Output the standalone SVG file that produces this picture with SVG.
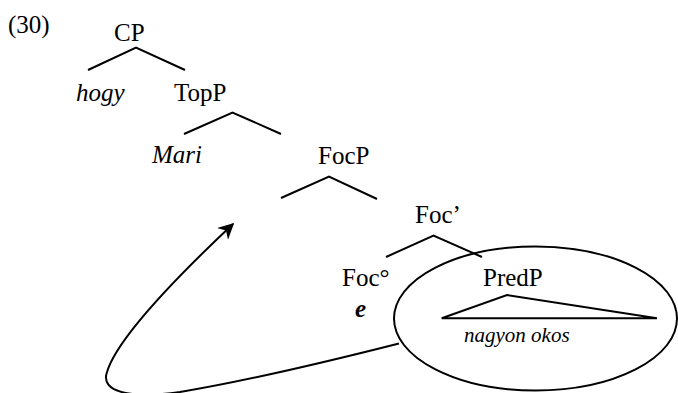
<svg xmlns="http://www.w3.org/2000/svg" width="678" height="393" viewBox="0 0 678 393">
<style>
.t{font-family:'Liberation Serif','Times New Roman',serif;font-size:25px;fill:#000}
.it{font-style:italic}
.sm{font-size:21px}
.b{font-weight:bold}
.ln{fill:none;stroke:#000;stroke-width:2;stroke-linejoin:miter}
</style>
<defs>
<marker id="ah" viewBox="0 0 10 10" refX="9" refY="5" markerWidth="20" markerHeight="16" markerUnits="userSpaceOnUse" orient="auto">
<path d="M0,0 L10,5 L0,10 L3,5 Z" fill="#000"/>
</marker>
</defs>
<rect width="678" height="393" fill="#fff"/>
<text class="t" id="num" x="8" y="33">(30)</text>
<g id="CP"><text class="t" x="114" y="41">CP</text></g>
<g id="hogy"><text class="t it" x="76" y="101">hogy</text></g>
<g id="TopP"><text class="t" x="174" y="101">TopP</text></g>
<g id="Mari"><text class="t it" x="152" y="163">Mari</text></g>
<g id="FocP"><text class="t" x="318" y="164">FocP</text></g>
<g id="FocBar"><text class="t" x="415" y="223">Foc’</text></g>
<g id="Foc0"><text class="t" x="342" y="286">Foc°</text><text class="t it b" x="355" y="317">e</text></g>
<g id="PredP"><text class="t" x="483" y="286">PredP</text>
<path class="ln" d="M441.7,318.3 L507,295 L657,318.3 Z"/>
<text class="t it sm" x="464" y="342">nagyon okos</text>
<ellipse class="ln" cx="535.5" cy="318.5" rx="141.5" ry="72"/>
</g>
<g id="connectors">
<path class="ln" d="M88,70 L136,47.5 L185,70"/>
<path class="ln" d="M184,134 L232.5,112.5 L281,134"/>
<path class="ln" d="M281,198 L329,176.5 L377,199"/>
<path class="ln" d="M386,257 L433.5,235.5 L482,257"/>
<path class="ln" marker-end="url(#ah)" d="M399,343.5 C330,361 240,382 180,392 C130,399 100,392 107,372 C116,342 165,288 233,224"/>
</g>
</svg>
